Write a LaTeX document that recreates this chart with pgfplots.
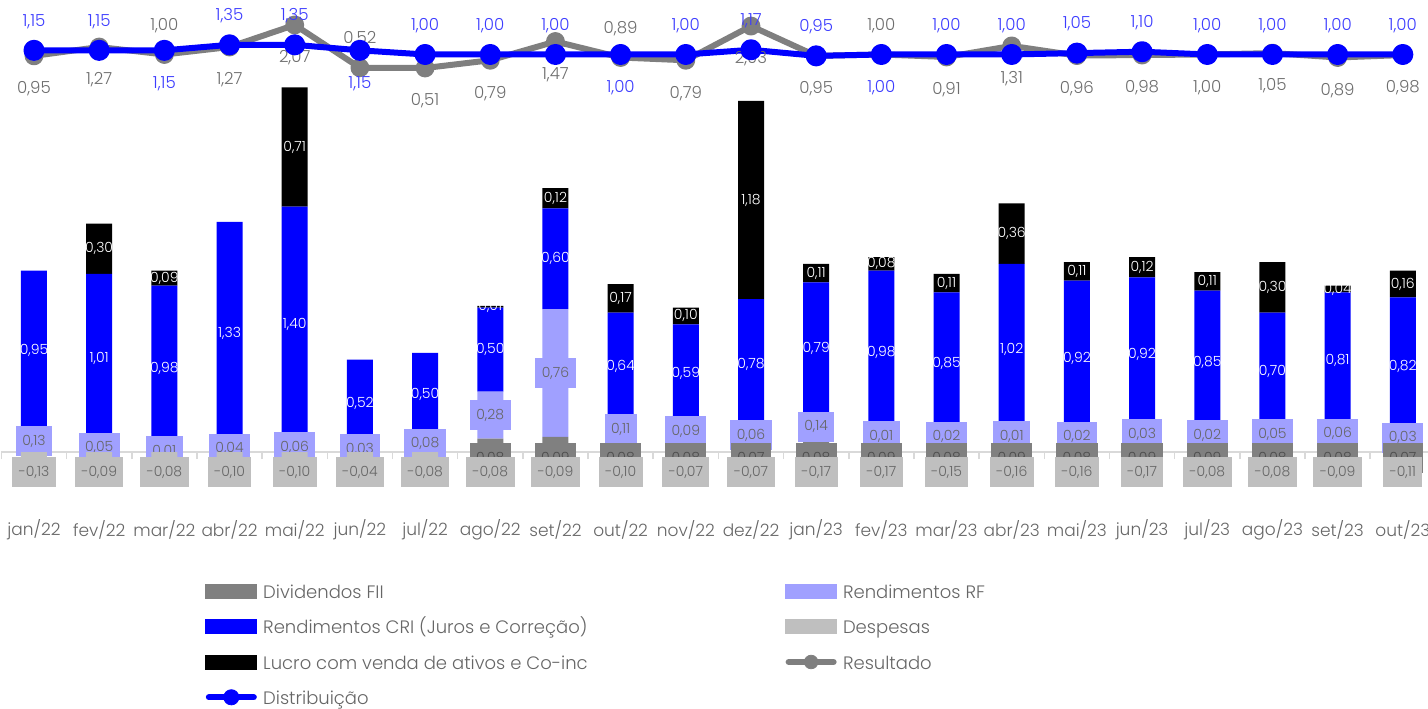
\documentclass[border=0pt]{standalone}
\usepackage{pgfplots}
\pgfplotsset{compat=1.18}
\usepackage{pgfplotstable}
\usepackage{fontspec}
\setmainfont{Poppins Light}

\definecolor{divcol}{HTML}{808080}
\definecolor{rfcol}{HTML}{A0A0FF}
\definecolor{cricol}{HTML}{0000FF}
\definecolor{lucrocol}{HTML}{000000}
\definecolor{despcol}{HTML}{BFBFBF}
\definecolor{rescol}{HTML}{7F7F7F}
\definecolor{distcol}{HTML}{0000FF}
\definecolor{txtcol}{HTML}{666666}
\definecolor{axcol}{HTML}{D9D9D9}
\definecolor{distlab}{HTML}{3D3DFF}
\definecolor{reslab}{HTML}{6E6E6E}

% valores mensais por cota (R$)
% lf: mostra o rotulo do lucro; dup: rotulo da distribuicao acima do ponto
\pgfplotstableread{
x  desp  div  rf   cri  lucro lf dist res  dup
0  -0.13 0    0.13 0.95 0.00  0  1.15 0.95 1
1  -0.09 0    0.05 1.01 0.30  1  1.15 1.27 1
2  -0.08 0    0.01 0.98 0.09  1  1.15 1.00 0
3  -0.10 0    0.04 1.33 0.00  1  1.35 1.27 1
4  -0.10 0    0.06 1.40 0.71  1  1.35 2.07 1
5  -0.04 0    0.03 0.52 0.00  1  1.15 0.52 0
6  -0.08 0.01 0.08 0.50 0.00  1  1.00 0.51 1
7  -0.08 0.08 0.28 0.50 0.01  1  1.00 0.79 1
8  -0.09 0.09 0.76 0.60 0.12  1  1.00 1.47 1
9  -0.10 0.08 0.11 0.64 0.17  1  1.00 0.89 0
10 -0.07 0.08 0.09 0.59 0.10  1  1.00 0.79 1
11 -0.07 0.07 0.06 0.78 1.18  1  1.17 2.03 1
12 -0.17 0.08 0.14 0.79 0.11  1  0.95 0.95 1
13 -0.17 0.09 0.01 0.98 0.08  1  1.00 1.00 0
14 -0.15 0.08 0.02 0.85 0.11  1  1.00 0.91 1
15 -0.16 0.09 0.01 1.02 0.36  1  1.00 1.31 1
16 -0.16 0.08 0.02 0.92 0.11  1  1.05 0.96 1
17 -0.17 0.09 0.03 0.92 0.12  1  1.10 0.98 1
18 -0.08 0.09 0.02 0.85 0.11  1  1.00 1.00 1
19 -0.08 0.08 0.05 0.70 0.30  1  1.00 1.05 1
20 -0.09 0.08 0.06 0.81 0.04  1  1.00 0.89 1
21 -0.11 0.07 0.03 0.82 0.16  1  1.00 0.98 1
}\mensal

\pgfplotsset{
  painel/.style={
    at={(0.7pt,101.5pt)}, anchor=south west, scale only axis,
    width=717pt, height=250pt, xmin=-0.5, xmax=21.5, clip=false,
  },
  valor/.style={
    point meta=explicit,
    nodes near coords={\pgfmathprintnumber[fixed, fixed zerofill, precision=2,
      use comma, assume math mode=true]{\pgfplotspointmeta}},
    every node near coord/.append style={anchor=center,
      font=\fontsize{7}{8}\selectfont},
  },
  caixa/.style={every node near coord/.append style={fill=#1,
      minimum height=15pt, inner xsep=3.2pt, inner ysep=0pt}},
  oculta/.style={ybar, bar width=13pt, bar shift=0pt, fill=none, draw=none},
}
\newcommand{\ent}[1]{\rule[-3pt]{0pt}{11.5pt}#1}

\begin{document}
\begin{tikzpicture}
\path[use as bounding box] (0,0) rectangle (714pt,354pt);

% receitas empilhadas (rotulos no centro de cada segmento)
\begin{axis}[painel,
  ymin=-0.31548, ymax=2.66071,
  ybar stacked, bar width=13pt,
  axis x line=middle, axis y line=none,
  x axis line style={draw=axcol, line width=0.75pt, -},
  every inner x axis line/.append style={-},
  hide obscured x ticks=false,
  xtick={0,...,21},
  xticklabels={jan/22,fev/22,mar/22,abr/22,mai/22,jun/22,jul/22,ago/22,set/22,out/22,nov/22,dez/22,jan/23,fev/23,mar/23,abr/23,mai/23,jun/23,jul/23,ago/23,set/23,out/23},
  minor xtick={-0.5,0.5,...,21.5},
  major tick length=0pt, minor tick length=3.5pt, tick align=outside,
  minor tick style={draw=axcol, line width=0.75pt},
  x tick label style={font=\fontsize{8.5}{10}\selectfont, text=txtcol,
    anchor=center, yshift=-39pt},
]
\addplot[fill=divcol, draw=none] table[x=x, y=div]{\mensal};
\addplot[fill=rfcol, draw=none, valor, caixa=rfcol,
  every node near coord/.append style={text=txtcol}]
  table[x=x, y=rf, meta=rf]{\mensal};
\addplot[fill=cricol, draw=none, valor,
  every node near coord/.append style={text=white, inner sep=0pt}]
  table[x=x, y=cri, meta=cri]{\mensal};
\addplot[fill=lucrocol, draw=none, valor,
  visualization depends on={\thisrow{lf} \as \vf},
  every node near coord/.append style={text=white, text opacity=\vf, inner sep=0pt}]
  table[x=x, y=lucro, meta=lucro]{\mensal};
\end{axis}

% despesas e rotulos da base
\begin{axis}[painel, ymin=-0.31548, ymax=2.66071, hide axis]
\addplot[ybar, bar width=13pt, bar shift=0pt, fill=despcol, draw=none]
  table[x=x, y=desp]{\mensal};
\addplot[oculta, valor, caixa=divcol,
  visualization depends on={\thisrow{div} \as \vv},
  every node near coord/.append style={yshift={(-0.0357-(\vv))*84pt}, text=black!70}]
  table[x=x, y=div, meta=div, skip coords between index={0}{7}]{\mensal};
\addplot[oculta, valor, caixa=despcol,
  visualization depends on={\thisrow{desp} \as \vv},
  every node near coord/.append style={yshift={(-0.119-(\vv))*84pt}, text=txtcol}]
  table[x=x, y=desp, meta=desp]{\mensal};
\end{axis}

% resultado e distribuicao
\begin{axis}[painel, ymin=-15.323, ymax=2.7926, hide axis,
  legend columns=2, legend cell align=left,
  legend style={at={(axis description cs:0.142,-0.146)}, anchor=north west,
    draw=none, fill=none, inner sep=0pt, row sep=4.65pt,
    font=\fontsize{9}{10}\selectfont, text=txtcol,
    nodes={inner ysep=1.5pt, inner xsep=3pt}},
]
\addlegendimage{legend image code/.code={\fill[divcol] (0pt,-3.5pt) rectangle (25.5pt,3.5pt);}}
\addlegendentry{\ent{\makebox[258pt][l]{Dividendos FII}}}
\addlegendimage{legend image code/.code={\fill[rfcol] (0pt,-3.5pt) rectangle (25.5pt,3.5pt);}}
\addlegendentry{\ent{Rendimentos RF}}
\addlegendimage{legend image code/.code={\fill[cricol] (0pt,-3.5pt) rectangle (25.5pt,3.5pt);}}
\addlegendentry{\ent{\makebox[258pt][l]{Rendimentos CRI (Juros e Correção)}}}
\addlegendimage{legend image code/.code={\fill[despcol] (0pt,-3.5pt) rectangle (25.5pt,3.5pt);}}
\addlegendentry{\ent{Despesas}}
\addlegendimage{legend image code/.code={\fill[lucrocol] (0pt,-3.5pt) rectangle (25.5pt,3.5pt);}}
\addlegendentry{\ent{\makebox[258pt][l]{Lucro com venda de ativos e Co-inc}}}
\addlegendimage{legend image code/.code={\draw[rescol, line width=3pt, line cap=round] (1.5pt,0pt) -- (24pt,0pt); \fill[rescol] (12.75pt,0pt) circle (3.4pt);}}
\addlegendentry{\ent{Resultado}}
\addlegendimage{legend image code/.code={\draw[distcol, line width=3pt, line cap=round] (1.5pt,0pt) -- (24pt,0pt); \fill[distcol] (12.75pt,0pt) circle (3.8pt);}}
\addlegendentry{\ent{\makebox[258pt][l]{Distribuição}}}

\addplot[rescol, line width=3pt, line join=round, line cap=round,
  mark=*, mark size=3.2pt, mark options={fill=rescol, draw=none},
  valor, visualization depends on={\thisrow{dup} \as \vd},
  every node near coord/.append style={yshift={(1-\vd)*31pt-16.5pt},
    text=reslab, font=\fontsize{8.3}{9}\selectfont}]
  table[x=x, y=res, meta=res]{\mensal};
\addplot[distcol, line width=3pt, line join=round, line cap=round,
  mark=*, mark size=3.75pt, mark options={fill=distcol, draw=none},
  valor, visualization depends on={\thisrow{dup} \as \vd},
  every node near coord/.append style={yshift={\vd*31pt-16.5pt},
    text=distlab, font=\fontsize{8.3}{9}\selectfont}]
  table[x=x, y=dist, meta=dist]{\mensal};
\end{axis}
\end{tikzpicture}
\end{document}
